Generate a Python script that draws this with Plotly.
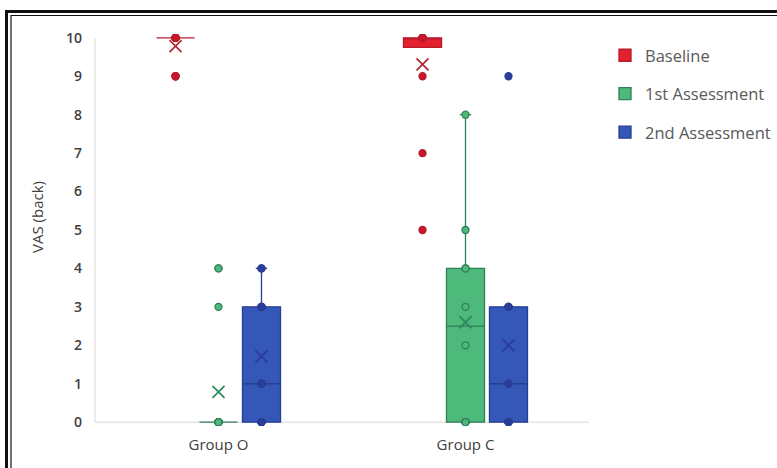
import numpy as np
import plotly.graph_objects as go

# ---------------- data ----------------
groups = ["Group O", "Group C"]
series_names = ["Baseline", "1st Assessment", "2nd Assessment"]

baseline_O = [9, 9, 9, 10, 10, 10, 10, 10, 10, 10, 10, 10, 10, 10]
baseline_C = [5, 7, 9, 10, 10, 10, 10, 10, 10, 10, 10, 10, 10]
first_O = [0, 0, 0, 0, 0, 0, 0, 0, 0, 0, 0, 3, 4, 4]
first_C = [0, 0, 0, 0, 2, 3, 4, 4, 5, 8]
second_O = [0, 0, 0, 0, 1, 1, 1, 1, 3, 3, 3, 3, 4, 4]
second_C = [0, 0, 0, 0, 1, 1, 3, 3, 3, 9]

y_ticks = [0, 1, 2, 3, 4, 5, 6, 7, 8, 9, 10]

fill_colors = ["#E3212F", "#4DBA7C", "#3557B7"]
line_colors = ["#B81B2A", "#2F7F57", "#263F92"]
point_colors = ["#C8162C", "#4DBA7C", "#2B3C9C"]
mean_colors = ["#B5293A", "#2E8A5E", "#2B3C9C"]

series_data = [
    (baseline_O, baseline_C),
    (first_O, first_C),
    (second_O, second_C),
]

# ---------------- layout geometry ----------------
W, H = 777, 468
ML, MR, MT, MB = 95, 188, 34, 42
PW, PH = W - ML - MR, H - MT - MB


def px_x(p):
    return (p - ML) / PW


def px_y(p):
    return 1 - (p - MT) / PH


fig = go.Figure()

for i, name in enumerate(series_names):
    d_o, d_c = series_data[i]
    xs = [groups[0]] * len(d_o) + [groups[1]] * len(d_c)
    ys = list(d_o) + list(d_c)
    fig.add_trace(go.Box(
        x=xs, y=ys, name=name,
        offsetgroup=name, legendgroup=name,
        quartilemethod="linear",
        boxpoints="all", jitter=0, pointpos=0,
        fillcolor=fill_colors[i],
        line=dict(color=line_colors[i], width=1.3),
        whiskerwidth=0.3,
        marker=dict(color=point_colors[i], size=7,
                    line=dict(color=line_colors[i], width=1.3)),
        hoverinfo="y",
    ))
    means = [float(np.mean(d_o)), float(np.mean(d_c))]
    fig.add_trace(go.Box(
        x=groups, y=means, name=name + " mean",
        offsetgroup=name, legendgroup=name, showlegend=False,
        boxpoints="all", jitter=0, pointpos=0,
        fillcolor="rgba(0,0,0,0)",
        line=dict(color="rgba(0,0,0,0)", width=0),
        marker=dict(color=mean_colors[i], size=12, symbol="x-thin-open",
                    line=dict(color=mean_colors[i], width=1.8)),
        hoverinfo="y",
    ))

font_family = "Open Sans, Noto Sans, sans-serif"
text_color = "#404040"

shapes = [
    # axis lines
    dict(type="line", xref="paper", yref="y", x0=0, x1=0, y0=0, y1=10,
         line=dict(color="#D9D9D9", width=1), layer="below"),
    dict(type="line", xref="paper", yref="y", x0=0, x1=1, y0=0, y1=0,
         line=dict(color="#D9D9D9", width=1), layer="below"),
    # double frame (top / left)
    dict(type="line", xref="paper", yref="paper", x0=px_x(5), x1=px_x(780),
         y0=px_y(11.5), y1=px_y(11.5), line=dict(color="#111111", width=3)),
    dict(type="line", xref="paper", yref="paper", x0=px_x(11), x1=px_x(780),
         y0=px_y(15.5), y1=px_y(15.5), line=dict(color="#111111", width=1.2)),
    dict(type="line", xref="paper", yref="paper", x0=px_x(6.5), x1=px_x(6.5),
         y0=px_y(10), y1=px_y(470), line=dict(color="#111111", width=3)),
    dict(type="line", xref="paper", yref="paper", x0=px_x(11), x1=px_x(11),
         y0=px_y(15), y1=px_y(470), line=dict(color="#111111", width=1.2)),
]

fig.update_layout(
    width=W, height=H,
    margin=dict(l=ML, r=MR, t=MT, b=MB, autoexpand=False),
    paper_bgcolor="white", plot_bgcolor="white",
    boxmode="group", boxgap=0.478, boxgroupgap=0.115,
    font=dict(family=font_family, color=text_color, size=13),
    showlegend=True,
    legend=dict(
        x=px_x(605), xanchor="left", y=px_y(38), yanchor="top",
        font=dict(size=16.5, color="#595959"),
        tracegroupgap=14, traceorder="grouped",
        bgcolor="rgba(0,0,0,0)",
    ),
    xaxis=dict(
        type="category", categoryorder="array", categoryarray=groups,
        range=[-0.5, 1.5],
        showgrid=False, zeroline=False, showline=False,
        tickfont=dict(size=15, color=text_color),
        ticklabelstandoff=8,
    ),
    yaxis=dict(
        range=[-0.1, 10.1], tickvals=y_ticks,
        showgrid=False, zeroline=False, showline=False,
        tickfont=dict(size=14, color=text_color, weight=600),
        ticklabelstandoff=12,
    ),
    shapes=shapes,
    annotations=[dict(
        text="VAS (back)", textangle=-90, showarrow=False,
        xref="paper", yref="paper", x=px_x(37), y=px_y(217),
        xanchor="center", yanchor="middle",
        font=dict(size=15, color=text_color),
    )],
)

fig.write_html("out.html", config={"displayModeBar": False},
               post_script="document.body.style.margin='0px';")
